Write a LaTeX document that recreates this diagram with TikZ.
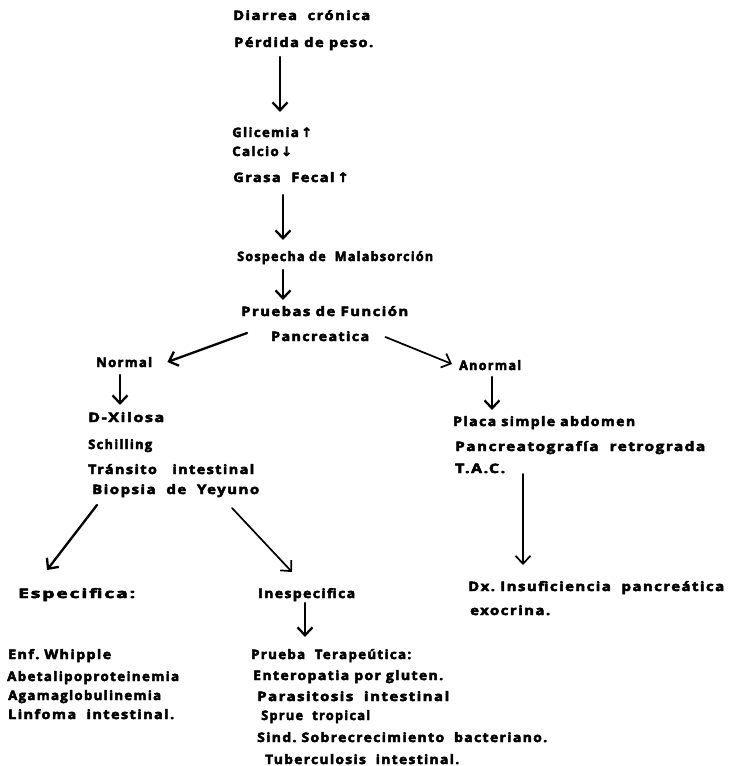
\documentclass[tikz,border=0pt]{standalone}
\usepackage{fontspec}
\setmainfont{Open Sans}[LetterSpace=10,BoldFeatures={FakeBold=3.5}]
\newfontfamily\symf{DejaVu Sans}[FakeBold=2]
\usetikzlibrary{arrows.meta,calc}
\newcommand{\fw}[2]{\setbox0=\hbox{#2}\pgfmathsetmacro\fwfac{#1/\the\wd0}\scalebox{\fwfac}[1]{\box0}}
\begin{document}
\begin{tikzpicture}[x=1pt,y=-1pt,
  txt/.style={anchor=base west,inner sep=0pt,font=\bfseries\fontsize{13}{15}\selectfont},
  arr/.style={line width=2.3pt,line cap=round,-{Straight Barb[length=8pt,width=15pt]}},
  thin arr/.style={arr,line width=1.7pt}]
\useasboundingbox[fill=white] (0,0) rectangle (730,766);
\newcommand{\up}{{\symf\,↑}}
\newcommand{\dn}{{\symf\,↓}}
% main column
\node[txt] (d1) at (233,20) {\fw{137}{Diarrea\ \ crónica}};
\node[txt] (d2) at (234,47) {\fw{139}{Pérdida\ de\ peso.}};
\node[txt] (g1) at (232,137) {\fw{80}{Glicemia\up}};
\node[txt] (g2) at (232,156) {\fw{60}{Calcio\dn}};
\node[txt] (g3) at (233,182) {\fw{116}{Grasa\ \ Fecal\up}};
\node[txt] (s1) at (237,261) {\fw{196}{Sospecha\ de\ \ Malabsorción}};
\node[txt] (pf1) at (241,316) {\fw{167}{Pruebas\ de\ Función}};
\node[txt] (pf2) at (271,341) {\fw{98}{Pancreatica}};
% left branch
\node[txt] (nor) at (96,367) {\fw{56}{Normal}};
\node[txt] (n1) at (88,422) {\fw{76}{D-Xilosa}};
\node[txt] (n2) at (88,449) {\fw{64}{Schilling}};
\node[txt] (n3) at (88,474) {\fw{166}{Tránsito\ \ \ intestinal}};
\node[txt] (n4) at (92,494) {\fw{167}{Biopsia\ \ de\ \ Yeyuno}};
\node[txt] (esp) at (18,598) {\fw{117}{Especifica:}};
\node[txt] (ine) at (258,598) {\fw{97}{Inespecifica}};
\node[txt] (e1) at (8,659) {\fw{103}{Enf.\ Whipple}};
\node[txt] (e2) at (7,681) {\fw{172}{Abetalipoproteinemia}};
\node[txt] (e3) at (8,700) {\fw{153}{Agamaglobulinemia}};
\node[txt] (e4) at (8,719) {\fw{166}{Linfoma\ \ intestinal.}};
\node[txt] (i1) at (251,659) {\fw{160}{Prueba\ \ Terapeútica:}};
\node[txt] (i2) at (253,680) {\fw{190}{Enteropatia\ por\ gluten.}};
\node[txt] (i3) at (257,701) {\fw{192}{Parasitosis\ \ intestinal}};
\node[txt] (i4) at (261,720) {\fw{109}{Sprue\ \ tropical}};
\node[txt] (i5) at (257,742) {\fw{290}{Sind.\ Sobrecrecimiento\ \ bacteriano.}};
\node[txt] (i6) at (265,764) {\fw{194}{Tuberculosis\ \ intestinal.}};
% right branch
\node[txt] (ano) at (459,370) {\fw{62}{Anormal}};
\node[txt] (a1) at (453,426) {\fw{182}{Placa\ simple\ abdomen}};
\node[txt] (a2) at (455,451) {\fw{250}{Pancreatografía\ \ retrograda}};
\node[txt] (a3) at (455,473) {\fw{50}{T.A.C.}};
\node[txt] (dx1) at (468,591) {\fw{256}{Dx.\ Insuficiencia\ \ pancreática}};
\node[txt] (dx2) at (470,615) {\fw{80}{exocrina.}};
% arrows
\draw[arr] ($(d2.base west)+(46,10)$) -- ($(g1.base west)+(48,-25)$);
\draw[arr] ($(g3.base west)+(50,13)$) -- ($(s1.base west)+(46,-21)$);
\draw[arr] ($(s1.base west)+(46,9)$) -- ($(pf1.base west)+(42,-16)$);
\draw[arr] ($(pf2.base west)+(-24,-8)$) -- ($(nor.base east)+(15,-5)$);
\draw[thin arr] ($(pf2.base east)+(16,-4)$) -- ($(ano.base west)+(-7,-6)$);
\draw[arr] ($(nor.base west)+(24,8)$) -- ($(n1.base west)+(32,-17)$);
\draw[arr] ($(ano.base west)+(33,7)$) -- ($(a1.base west)+(39,-16)$);
\draw[thin arr] ($(a3.base west)+(68,1)$) -- ($(dx1.base west)+(55,-26)$);
\draw[arr] ($(n4.base west)+(5,11)$) -- ($(esp.base west)+(29,-28)$);
\draw[thin arr] ($(n4.base west)+(140,14)$) -- ($(ine.base west)+(34,-26)$);
\draw[arr] ($(ine.base west)+(47,5)$) -- ($(i1.base west)+(54,-22)$);
\end{tikzpicture}
\end{document}
